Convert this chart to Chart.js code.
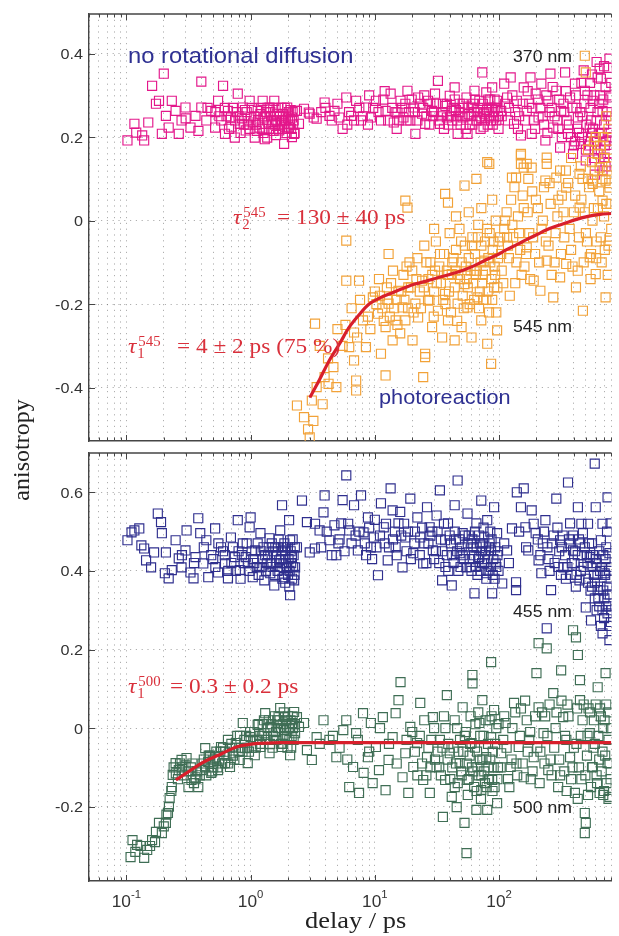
<!DOCTYPE html>
<html><head><meta charset="utf-8">
<script src="https://cdn.jsdelivr.net/npm/chart.js@4.4.1/dist/chart.umd.min.js"></script>
<style>
html,body{margin:0;padding:0;background:#fff;}
#wrap{position:relative;width:619px;height:936px;overflow:hidden;background:#fff;}
canvas{position:absolute;left:0;top:0;}
</style></head><body>
<div id="wrap"><canvas id="cTop" width="619" height="936"></canvas><canvas id="cBot" width="619" height="936"></canvas></div>
<script>
// ---------------- axis ranges & ticks ----------------
const X_MIN = 0.05, X_MAX = 803;
const X_GRID = [0.05,0.06,0.07,0.08,0.09,0.1,0.2,0.3,0.4,0.5,0.6,0.7,0.8,0.9,1,2,3,4,5,6,7,8,9,10,20,30,40,50,60,70,80,90,100,200,300,400,500,600,700,800];
const X_MAJOR = [0.1, 1, 10, 100];
const X_LABEL_EXP = ['-1', '0', '1', '2'];
const TOP_Y_MIN = -0.528, TOP_Y_MAX = 0.495;
const TOP_Y_TICKS = [-0.4, -0.2, 0, 0.2, 0.4];
const TOP_Y_LABELS = ['-0.4', '-0.2', '0', '0.2', '0.4'];
const BOT_Y_MIN = -0.389, BOT_Y_MAX = 0.70;
const BOT_Y_TICKS = [-0.2, 0, 0.2, 0.4, 0.6];
const BOT_Y_LABELS = ['-0.2', '0', '0.2', '0.4', '0.6'];

// ---------------- data: [delay (ps), anisotropy] ----------------
const s370 = [
[0.102,0.192],[0.116,0.232],[0.120,0.211],[0.134,0.204],[0.139,0.192],[0.150,0.235],[0.161,0.323],[0.173,0.280],[0.183,0.287],[0.193,0.208],[0.200,0.352],[0.208,0.251],[0.219,0.223],[0.232,0.287],[0.249,0.263],[0.264,0.208],[0.278,0.240],[0.299,0.271],[0.328,0.223],[0.360,0.251],[0.401,0.333],[0.401,0.271],[0.440,0.240],[0.482,0.263],[0.518,0.223],[0.547,0.287],[0.600,0.323],[0.622,0.208],[0.657,0.263],[0.694,0.247],[0.746,0.199],[0.788,0.304],[0.818,0.232],[0.865,0.271],[0.913,0.216],[0.982,0.287],[1.00,0.247],[1.08,0.199],[1.14,0.263],[1.18,0.223],[1.25,0.287],[1.29,0.247],[1.36,0.199],[1.42,0.271],[1.50,0.232],[1.55,0.287],[1.64,0.256],[1.70,0.216],[1.79,0.240],[1.86,0.184],[1.97,0.271],[2.04,0.223],[2.15,0.247],[2.24,0.208],[2.28,0.263],[2.45,0.232],[2.69,0.268],[2.94,0.259],[3.22,0.247],
[1.05,0.235],[1.12,0.215],[1.20,0.255],[1.27,0.210],[1.33,0.260],[1.39,0.235],[1.46,0.250],[1.53,0.215],[1.60,0.240],[1.67,0.270],[1.74,0.230],[1.82,0.255],[1.90,0.225],[2.00,0.245],[2.10,0.265],[2.20,0.230],[0.56,0.250],[0.70,0.225],[0.85,0.245],[0.95,0.230],[0.45,0.270],[0.30,0.245],[0.38,0.215],[0.62,0.270],[0.77,0.260],[0.90,0.265],[1.60,0.205],[1.95,0.210],[2.15,0.200],[1.30,0.195],
[0.52,0.26],[0.58,0.24],[0.64,0.25],[0.67,0.22],[0.72,0.27],[0.75,0.24],[0.80,0.25],[0.83,0.21],[0.88,0.23],[0.93,0.26],[0.98,0.22],[1.02,0.27],[1.07,0.25],[1.10,0.23],[1.15,0.24],[1.22,0.27],[1.24,0.22],[1.31,0.25],[1.37,0.27],[1.41,0.22],[1.44,0.26],[1.48,0.24],[1.52,0.27],[1.57,0.23],[1.62,0.25],[1.66,0.22],[1.71,0.25],[1.77,0.27],[1.80,0.22],[1.85,0.24],[1.88,0.27],[1.93,0.24],[1.99,0.22],[2.03,0.26],[2.07,0.24],[2.12,0.22],[2.18,0.26],[2.22,0.24],[2.26,0.21],
[2.36,0.263],[2.99,0.256],[3.40,0.244],[3.94,0.283],[4.31,0.251],[4.73,0.263],[5.18,0.247],[5.89,0.295],[6.45,0.251],[7.07,0.287],[7.74,0.240],[8.48,0.271],[9.29,0.247],[10.2,0.287],[11.2,0.240],[12.2,0.263],[13.4,0.304],[14.2,0.235],[15.2,0.259],[16.1,0.287],[17.0,0.247],[18.3,0.311],[19.3,0.240],[20.4,0.271],[21.2,0.208],[22.3,0.295],[24.0,0.256],[25.4,0.232],[26.8,0.287],[28.9,0.263],[30.5,0.304],[32.2,0.335],[33.4,0.232],[35.3,0.280],[38.0,0.247],[40.1,0.299],[41.6,0.263],[43.9,0.319],[46.4,0.208],[48.2,0.280],[50.9,0.247],[54.7,0.295],[55.7,0.208],[60.0,0.271],[63.4,0.311],[65.7,0.240],[69.4,0.287],[73.3,0.355],[76.0,0.256],[78.9,0.307],[83.4,0.271],[88.0,0.319],[91.2,0.247],[96.4,0.287],[104,0.263],[110,0.328],[116,0.295],[124,0.343],[132,0.232],[139,0.287],[150,0.204],[158,0.319],[167,0.263],[179,0.343],[183,0.208],[197,0.304],[208,0.247],[219,0.328],[236,0.192],[249,0.287],[259,0.352],[273,0.223],[289,0.311],[310,0.175],[316,0.263],[340,0.355],[359,0.208],[373,0.295],[394,0.160],[408,0.328],[431,0.247],[456,0.184],[490,0.311],[499,0.144],[537,0.223],[567,0.287],[589,0.168],[622,0.343],[645,0.208],[681,0.263],[707,0.151],[747,0.366],[774,0.192],[789,0.295],[774,0.388],[645,0.364],
[30,0.26],[34,0.25],[37,0.275],[42,0.24],[45,0.265],[47,0.25],[52,0.27],[57,0.255],[62,0.28],[67,0.26],[72,0.245],[80,0.265],[86,0.24],[93,0.27],[98,0.25],[36,0.22],[58,0.23],[75,0.225],[85,0.29],[44,0.29],[120,0.27],[145,0.25],[175,0.28],[190,0.24],[215,0.27],[230,0.23],[255,0.26],[280,0.25],[300,0.22],[330,0.28],[350,0.24],[380,0.20],[420,0.27],[440,0.21],[470,0.25],[520,0.19],[550,0.24],[600,0.20],[620,0.26],[660,0.17],[700,0.23],[730,0.19],[760,0.25],[790,0.20],[500,0.17],[580,0.15],[680,0.12],[760,0.14],[590,0.11],[560,0.21],[410,0.19],[650,0.30],[720,0.32],[540,0.33],[480,0.36],[12,0.31],[15,0.22],[6,0.23],[9,0.30],[4,0.27],[5.5,0.22],[18,0.24],[25,0.30],
[31,0.28],[33,0.24],[35,0.26],[38,0.28],[39,0.23],[41,0.25],[43,0.27],[46,0.24],[48,0.26],[49,0.23],[51,0.28],[53,0.25],[54,0.22],[56,0.27],[59,0.25],[61,0.23],[63,0.26],[64,0.29],[66,0.24],[68,0.27],[70,0.25],[71,0.22],[74,0.28],[77,0.24],[79,0.26],[81,0.23],[82,0.29],[84,0.25],[87,0.27],[89,0.23],[90,0.26],[92,0.29],[95,0.24],[97,0.27],[99,0.22],
[105,0.25],[112,0.28],[118,0.24],[128,0.30],[135,0.26],[142,0.22],[155,0.28],[162,0.24],[170,0.31],[185,0.27],[195,0.22],[205,0.29],[225,0.25],[240,0.30],[245,0.21],[265,0.27],[270,0.32],[295,0.24],[305,0.29],[320,0.20],[335,0.26],[345,0.31],[365,0.23],[390,0.27],[400,0.18],[415,0.30],[425,0.22],[450,0.26],[465,0.20],[485,0.28],[505,0.23],[515,0.30],[530,0.18],[545,0.27],[570,0.22],[585,0.30],[595,0.19],[610,0.24],[630,0.16],[640,0.28],[670,0.21],[690,0.29],[710,0.18],[740,0.26],[750,0.21],[770,0.30],[780,0.16],[795,0.24],[800,0.33],[720,0.13],[660,0.34],[560,0.35],[460,0.33],[700,0.37],[610,0.38],
[3.7,0.26],[4.5,0.24],[5,0.28],[6.2,0.26],[6.8,0.24],[7.5,0.27],[8,0.25],[8.8,0.23],[9.7,0.27],[10.7,0.26],[11.7,0.29],[12.8,0.24],[13.8,0.27],[14.7,0.26],[15.7,0.24],[16.6,0.27],[17.6,0.28],[18.8,0.26],[19.8,0.29],[21,0.26],[22,0.24],[23,0.28],[24.5,0.27],[26,0.25],[27.5,0.23],[28,0.28],[29.5,0.25]
];
const s545 = [
[2.36,-0.443],[2.69,-0.471],[2.99,-0.519],[3.11,-0.431],[3.40,-0.399],[3.94,-0.375],[4.24,-0.391],[4.90,-0.399],[4.64,-0.351],[7.07,-0.383],[7.07,-0.407],[6.8,-0.335],[6.22,-0.303],[6.8,-0.268],[8.48,-0.303],[8.03,-0.239],[9.64,-0.184],[10.6,-0.223],[11.2,-0.319],[12.2,-0.255],[12.9,-0.199],[13.9,-0.287],[14.7,-0.239],[15.5,-0.168],[16.7,-0.208],[17.6,-0.239],[18.6,-0.160],[20.1,-0.287],[21.2,-0.199],[22.3,-0.232],[24.0,-0.144],[25.4,-0.319],[25.4,-0.327],[26.8,-0.192],[28.9,-0.255],[30.5,-0.120],[32.2,-0.216],[34.8,-0.280],[36.8,-0.176],[38.8,-0.239],[41.6,-0.128],[43.9,-0.287],[46.4,-0.199],[49.9,-0.255],[52.7,-0.152],[55.7,-0.208],[60.0,-0.280],[63.4,-0.120],[67.0,-0.184],[71.9,-0.239],[76.0,-0.096],[80.3,-0.295],[86.3,-0.343],[91.2,-0.160],[96.4,-0.263],[104,-0.080],[116,-0.040],[167,-0.064],[190,-0.144],[215,-0.168],[242,-0.096],[273,-0.184],[310,-0.136],[347,-0.104],[416,-0.160],[473,-0.216],[537,-0.088],[600,-0.128],[720,-0.184],[774,-0.048],[12.2,-0.371],[24.5,-0.375],[5.89,-0.048],[5.89,-0.144],[7.46,-0.144],[12.9,-0.080],[3.3,-0.247],
[5.5,-0.30],[5.8,-0.25],[6.5,-0.21],[7.2,-0.28],[7.6,-0.19],[8.8,-0.23],[9.2,-0.26],[10,-0.17],[10.8,-0.14],[11.5,-0.21],[12.5,-0.16],[13.2,-0.23],[14,-0.12],[15,-0.19],[16,-0.27],[17,-0.13],[18.5,-0.21],[19,-0.10],[5,-0.26],[4.2,-0.33],[3.6,-0.30],[3.8,-0.44],[3.2,-0.48],[2.9,-0.50],
[17.6,0.048],[18.3,0.031],[36.8,0.064],[38.8,0.043],[52.7,0.084],[65.7,0.100],[83.4,0.136],[80.3,0.140],[127,0.103],[150,0.156],[158,0.127],[183,0.127],[242,0.136],[289,0.103],[347,0.079],[445,0.031],[490,0.395],[499,0.355],[567,0.096],[681,0.048],[774,0.079],
[150,0.16],[150,0.136],[167,0.136],[242,0.151],[137,0.103],[236,0.096],[310,0.12],[444,0.112],[567,0.088],[645,0.127],[720,0.096],
[20,-0.12],[22,-0.09],[23,-0.17],[25,-0.06],[27,-0.14],[28,-0.10],[30,-0.17],[31,-0.05],[33,-0.11],[34,-0.15],[36,-0.08],[37,-0.20],[39,-0.13],[40,-0.03],[42,-0.10],[44,-0.16],[45,-0.07],[47,-0.13],[48,-0.02],[50,-0.10],[51,-0.18],[53,-0.06],[55,-0.14],[57,-0.09],[58,-0.20],[61,-0.04],[62,-0.15],[64,-0.08],[66,-0.12],[68,-0.01],[70,-0.17],[72,-0.06],[74,-0.13],[77,-0.05],[79,-0.19],[82,-0.09],[84,-0.03],[87,-0.14],[89,-0.07],[92,-0.11],[94,0.00],[97,-0.16],[99,-0.05],
[10.3,-0.20],[11,-0.18],[11.8,-0.24],[12.6,-0.19],[13.5,-0.15],[14.3,-0.21],[15.2,-0.25],[16.3,-0.17],[17.3,-0.19],[18,-0.11],[19.5,-0.16],[20.5,-0.22],[21.6,-0.14],[23.5,-0.21],[24.8,-0.16],[26,-0.10],[27.5,-0.19],[29,-0.13],[29.8,-0.23],[31.5,-0.15],[33.5,-0.08],[35.5,-0.19],[38,-0.12],[39.5,-0.17],[41,-0.22],[43,-0.09],[44.5,-0.12],[46,-0.24],[48.5,-0.14],[49.5,-0.05],[52,-0.21],[54,-0.11],[56,-0.16],[59,-0.12],[60.5,-0.06],[63,-0.19],[65,-0.13],[67.5,-0.04],[69,-0.21],[71,-0.10],[73,-0.15],[75,-0.19],[78,-0.12],[80,-0.02],[81,-0.17],[83,-0.22],[85,-0.10],[88,-0.19],[90,-0.05],[93,-0.13],[95,-0.22],[98,-0.09],[57,0.02],[72,0.03],[88,0.05],[45,0.01],[30,-0.02],
[105,-0.12],[110,-0.02],[115,0.02],[120,-0.09],[125,0.05],[130,-0.04],[135,-0.15],[142,0.01],[148,-0.07],[155,0.06],[160,-0.11],[170,0.02],[175,-0.03],[185,0.07],[195,-0.08],[205,0.03],[220,-0.02],[230,0.08],[250,-0.06],[260,0.04],[280,-0.10],[295,0.01],[320,0.06],[335,-0.04],[360,0.09],[380,-0.07],[400,0.02],[430,-0.12],[460,0.05],[500,-0.03],[520,0.10],[550,-0.08],[580,0.03],[610,-0.05],[640,0.07],[670,-0.10],[700,0.01],[740,0.12],[760,-0.06],[790,0.04],[600,0.20],[650,0.18],[700,0.15],[780,0.17],[520,0.17],[560,0.14],
[102,-0.04],[108,-0.15],[112,0.00],[118,-0.06],[122,-0.18],[128,-0.01],[133,0.08],[138,-0.10],[145,-0.03],[152,-0.13],[158,0.03],[165,-0.08],[172,0.10],[178,-0.14],[188,-0.04],[198,0.05],[210,-0.10],[225,0.00],[238,-0.05],[255,0.09],[265,-0.13],[285,-0.03],[300,0.05],[315,-0.08],[330,0.02],[345,0.12],[370,-0.02],[390,-0.11],[410,0.06],[440,-0.04],[455,0.13],[480,-0.10],[490,0.02],[510,-0.05],[530,0.08],[545,-0.14],[565,0.00],[590,0.12],[605,-0.09],[625,0.03],[660,-0.04],[680,0.10],[710,-0.07],[730,0.04],[750,-0.13],[770,0.09],[800,-0.02],[800,0.13],[620,0.16],[470,0.10],[380,0.15],[690,0.20],[760,0.22],[580,0.19],[730,0.25]
];
const fit545 = [[3.0,-0.424],[3.6,-0.38],[4.3,-0.335],[5.2,-0.295],[6.2,-0.256],[7.5,-0.225],[9.0,-0.200],[11,-0.185],[14,-0.172],[17,-0.162],[21,-0.152],[26,-0.145],[32,-0.137],[40,-0.129],[50,-0.120],[62,-0.109],[76,-0.096],[95,-0.083],[116,-0.069],[140,-0.057],[168,-0.045],[200,-0.034],[242,-0.022],[290,-0.013],[347,-0.005],[420,0.003],[520,0.010],[650,0.015],[800,0.017]];

const s455 = [
[0.102,0.478],[0.110,0.498],[0.116,0.503],[0.127,0.508],[0.132,0.465],[0.139,0.457],[0.144,0.427],[0.158,0.409],[0.167,0.447],[0.179,0.546],[0.190,0.524],[0.193,0.496],[0.204,0.394],[0.208,0.447],[0.219,0.381],[0.232,0.402],[0.249,0.478],[0.264,0.432],[0.278,0.409],[0.299,0.452],[0.305,0.503],[0.328,0.396],[0.347,0.381],[0.360,0.435],[0.379,0.534],[0.393,0.496],[0.416,0.419],[0.440,0.478],[0.456,0.384],[0.482,0.440],[0.518,0.508],[0.547,0.396],[0.578,0.460],[0.622,0.419],[0.657,0.381],[0.694,0.485],[0.746,0.435],[0.788,0.529],[0.818,0.402],[0.865,0.470],[0.913,0.435],[0.982,0.511],[1.00,0.536],[1.04,0.384],[1.09,0.452],[1.18,0.409],[1.20,0.496],[1.29,0.376],[1.31,0.440],[1.42,0.483],[1.44,0.394],[1.55,0.363],[1.58,0.460],[1.70,0.427],[1.73,0.503],[1.79,0.567],[1.86,0.384],[1.89,0.452],[1.97,0.407],[2.04,0.529],[2.08,0.478],[2.08,0.338],[2.15,0.435],[2.24,0.376],[2.28,0.409],[2.36,0.460],[2.59,0.579],[2.84,0.524],[2.99,0.447],[3.29,0.457],
[1.05,0.43],[1.12,0.41],[1.22,0.45],[1.35,0.42],[1.40,0.46],[1.50,0.41],[1.60,0.44],[1.65,0.40],[1.75,0.43],[1.82,0.46],[1.92,0.42],[2.00,0.39],[2.10,0.45],[2.20,0.41],[1.90,0.37],[1.68,0.48],[1.48,0.47],[1.25,0.43],[0.95,0.42],[0.85,0.44],[0.70,0.42],[0.60,0.45],[0.50,0.43],[0.42,0.46],[0.35,0.42],[0.28,0.44],[2.18,0.48],[2.05,0.36],
[0.52,0.41],[0.55,0.47],[0.62,0.44],[0.66,0.40],[0.72,0.46],[0.76,0.40],[0.80,0.45],[0.83,0.38],[0.88,0.42],[0.93,0.47],[0.98,0.40],[1.02,0.45],[1.07,0.42],[1.14,0.47],[1.16,0.39],[1.23,0.41],[1.27,0.46],[1.33,0.40],[1.38,0.44],[1.45,0.42],[1.52,0.45],[1.56,0.39],[1.62,0.42],[1.66,0.46],[1.72,0.41],[1.77,0.45],[1.80,0.38],[1.84,0.42],[1.87,0.47],[1.91,0.44],[1.95,0.41],[1.99,0.46],[2.02,0.43],[2.06,0.40],[2.12,0.42],[2.16,0.38],[2.22,0.44],[2.26,0.39],[2.27,0.46],
[3.59,0.503],[3.86,0.549],[3.94,0.592],[4.31,0.478],[4.73,0.516],[5.09,0.470],[5.36,0.521],[5.89,0.643],[6.22,0.503],[6.8,0.567],[7.3,0.452],[7.74,0.592],[8.12,0.498],[8.8,0.536],[9.29,0.460],[9.8,0.485],[10.6,0.389],[11.2,0.572],[11.8,0.511],[12.7,0.427],[13.4,0.610],[13.9,0.554],[14.7,0.460],[15.5,0.521],[16.7,0.409],[17.6,0.485],[19.3,0.584],[20.4,0.445],[22.0,0.536],[23.2,0.485],[24.5,0.419],[26.3,0.562],[27.6,0.511],[29.3,0.452],[31.4,0.541],[33.4,0.605],[34.8,0.376],[36.8,0.478],[38.8,0.521],[41.6,0.363],[43.9,0.567],[46.4,0.630],[48.2,0.445],[50.9,0.496],[54.7,0.409],[55.7,0.546],[60.0,0.470],[63.4,0.343],[65.7,0.521],[69.4,0.435],[71.9,0.579],[76.0,0.485],[78.9,0.394],[80.3,0.529],[86.3,0.452],[88.0,0.343],[91.2,0.562],[94,0.419],[96.4,0.496],[106,0.368],[116,0.452],[127,0.508],[137,0.351],[137,0.371],[139,0.600],[150,0.562],[158,0.610],[163,0.511],[172,0.452],[183,0.554],[197,0.496],[208,0.427],[219,0.394],[236,0.529],[242,0.254],[262,0.351],[289,0.584],[310,0.478],[330,0.409],[359,0.625],[373,0.521],[394,0.452],[431,0.562],[444,0.376],[473,0.496],[499,0.307],[537,0.435],[550,0.274],[589,0.673],[600,0.562],[622,0.351],[660,0.478],[681,0.241],[707,0.394],[747,0.587],[747,0.292],[774,0.224],[774,0.445],[789,0.521],
[21,0.50],[25,0.47],[28,0.49],[30,0.43],[32,0.50],[35,0.45],[37,0.41],[40,0.49],[42,0.44],[45,0.48],[47,0.40],[50,0.46],[52,0.43],[57,0.49],[59,0.41],[62,0.46],[64,0.50],[67,0.39],[70,0.47],[73,0.42],[75,0.51],[77,0.44],[82,0.40],[84,0.47],[85,0.50],[90,0.43],[92,0.38],[98,0.45],[110,0.47],[120,0.42],[145,0.50],[165,0.46],[190,0.52],[225,0.47],[250,0.43],[275,0.49],[300,0.41],[320,0.46],[345,0.38],[365,0.48],[385,0.42],[410,0.45],[420,0.39],[450,0.47],[480,0.41],[510,0.44],[520,0.37],[560,0.47],[580,0.39],[610,0.42],[630,0.33],[650,0.40],[690,0.35],[720,0.43],[740,0.36],[760,0.31],[790,0.38],[700,0.28],[610,0.30],[560,0.36],[660,0.26],[795,0.27],[4.9,0.44],[6.5,0.47],[8.5,0.44],[10,0.53],[12,0.47],[14.5,0.50],[16,0.55],[18,0.45],[5.5,0.58],[3.3,0.52],
[20.8,0.47],[23,0.44],[24,0.51],[26,0.42],[27,0.47],[29,0.50],[31,0.45],[33,0.42],[34,0.48],[36,0.52],[38,0.44],[39,0.40],[41,0.47],[43,0.42],[44,0.50],[46,0.45],[48,0.48],[49,0.41],[51,0.44],[53,0.49],[55,0.41],[56,0.47],[58,0.43],[60,0.40],[61,0.48],[63,0.44],[65,0.41],[66,0.46],[68,0.43],[69,0.49],[71,0.40],[72,0.45],[74,0.47],[76,0.42],[78,0.45],[79,0.38],[81,0.43],[83,0.46],[86,0.41],[87,0.48],[89,0.39],[93,0.46],[95,0.41],[97,0.44],[99,0.40],
[3.7,0.46],[4.1,0.50],[4.5,0.44],[5.2,0.48],[5.7,0.45],[6.1,0.52],[7,0.49],[7.5,0.50],[8.3,0.47],[9.0,0.51],[9.5,0.43],[10.3,0.46],[11,0.49],[12.3,0.52],[13,0.46],[14,0.48],[15,0.44],[16.3,0.49],[17.2,0.52],[18.5,0.50],[19.5,0.43],
[205,0.48],[215,0.44],[230,0.50],[245,0.46],[255,0.40],[268,0.47],[280,0.42],[295,0.51],[305,0.45],[315,0.39],[325,0.49],[340,0.44],[355,0.41],[370,0.47],[380,0.39],[395,0.49],[405,0.42],[415,0.36],[430,0.44],[440,0.48],[455,0.40],[465,0.44],[490,0.46],[500,0.38],[515,0.42],[530,0.47],[545,0.35],[555,0.41],[570,0.44],[590,0.37],[600,0.43],[620,0.39],[640,0.45],[655,0.36],[670,0.41],[690,0.44],[705,0.33],[715,0.39],[730,0.46],[750,0.34],[765,0.40],[780,0.34],[800,0.41],[800,0.30],[770,0.26],[730,0.31],[680,0.30],[640,0.31],[590,0.33],[740,0.50],[680,0.52],[520,0.52],[460,0.52]
];
const s500 = [
[0.108,-0.328],[0.112,-0.285],[0.122,-0.297],[0.139,-0.330],[0.147,-0.310],[0.161,-0.285],[0.173,-0.264],[0.183,-0.241],[0.193,-0.267],[0.208,-0.241],[0.216,-0.216],[0.223,-0.178],[0.232,-0.150],[0.236,-0.119],[0.249,-0.089],[0.264,-0.107],[0.278,-0.081],[0.305,-0.076],[0.316,-0.150],[0.334,-0.132],[0.360,-0.125],[0.379,-0.150],[0.401,-0.107],[0.431,-0.051],[0.456,-0.086],[0.482,-0.114],[0.518,-0.074],[0.547,-0.107],[0.578,-0.048],[0.622,-0.089],[0.657,-0.030],[0.682,-0.099],[0.719,-0.064],[0.760,-0.038],[0.818,-0.081],[0.865,0.013],[0.898,-0.051],[0.948,-0.089],[1.00,-0.023],[1.08,-0.069],[1.14,0.008],[1.20,-0.048],[1.29,-0.013],[1.31,0.038],[1.42,-0.064],[1.44,0.003],[1.55,-0.030],[1.64,0.020],[1.73,0.051],[1.79,-0.048],[1.86,-0.005],[1.89,0.028],[1.97,-0.023],[2.08,-0.069],[2.15,0.013],[2.24,0.041],[2.28,-0.013],[2.45,0.003],[2.84,-0.056],[3.11,-0.081],
[0.29,-0.12],[0.30,-0.095],[0.33,-0.10],[0.35,-0.14],[0.37,-0.11],[0.42,-0.08],[0.44,-0.12],[0.47,-0.07],[0.50,-0.10],[0.53,-0.06],[0.56,-0.08],[0.60,-0.05],[0.64,-0.07],[0.70,-0.04],[0.74,-0.08],[0.78,-0.02],[0.84,-0.05],[0.92,-0.02],[0.97,-0.06],[1.05,-0.03],[1.10,-0.05],[1.17,-0.02],[1.25,0.01],[1.35,-0.03],[1.40,0.02],[1.50,-0.05],[1.60,-0.01],[1.68,0.03],[1.76,0.00],[1.83,-0.04],[1.93,0.01],[2.00,0.03],[2.05,-0.03],[2.12,-0.05],[2.20,0.00],[0.26,-0.13],[0.24,-0.10],[0.25,-0.115],[0.23,-0.16],[0.22,-0.20],[0.21,-0.22],[0.20,-0.25],[0.17,-0.29],[0.155,-0.30],[0.13,-0.30],[0.118,-0.315],
[0.27,-0.09],[0.28,-0.10],[0.32,-0.11],[0.34,-0.09],[0.36,-0.13],[0.39,-0.12],[0.41,-0.09],[0.43,-0.10],[0.46,-0.07],[0.49,-0.11],[0.51,-0.08],[0.54,-0.10],[0.57,-0.06],[0.59,-0.09],[0.62,-0.06],[0.66,-0.09],[0.68,-0.05],[0.72,-0.07],[0.76,-0.05],[0.80,-0.06],[0.82,-0.02],[0.86,-0.06],[0.89,-0.03],[0.94,-0.05],[0.99,-0.01],[1.03,-0.05],[1.07,-0.01],[1.12,-0.03],[1.16,0.01],[1.19,-0.04],[1.23,-0.02],[1.28,0.02],[1.32,-0.03],[1.37,0.00],[1.43,-0.04],[1.47,0.01],[1.52,-0.02],[1.57,0.03],[1.62,-0.03],[1.66,0.00],[1.71,0.02],[1.75,-0.04],[1.81,0.01],[1.85,0.04],[1.88,-0.02],[1.95,0.02],[1.98,-0.05],[2.03,0.00],[2.10,0.02],[2.14,-0.02],[2.18,0.03],[2.22,-0.03],[2.26,0.01],
[2.36,0.028],[2.69,0.013],[3.40,-0.023],[3.86,0.020],[4.31,-0.030],[4.90,-0.074],[5.57,-0.005],[5.89,0.020],[6.22,-0.150],[6.68,-0.099],[7.07,-0.013],[7.46,-0.165],[8.03,0.038],[8.12,-0.114],[8.8,-0.074],[9.29,0.013],[9.6,-0.140],[10.2,-0.048],[10.8,-0.107],[11.6,0.028],[12.2,-0.158],[12.9,-0.081],[13.9,-0.023],[14.7,0.038],[15.5,0.071],[16.1,0.117],[16.7,-0.125],[17.6,-0.064],[18.6,-0.165],[19.3,0.003],[20.4,-0.099],[21.9,-0.038],[23.2,0.064],[24.5,-0.132],[26.3,-0.074],[27.7,-0.165],[29.3,0.028],[31.4,-0.099],[33.4,-0.030],[35.3,-0.226],[36.8,-0.132],[38.0,0.084],[40.1,-0.064],[41.6,-0.175],[43.9,0.020],[45.6,-0.201],[48.2,-0.089],[50.9,0.053],[52.7,-0.241],[54.7,-0.318],[55.7,-0.132],[60.0,-0.038],[61.1,0.114],[65.7,-0.208],[67.0,-0.099],[69.4,0.013],[71.9,-0.158],[73.3,0.071],[78.9,-0.074],[80.3,-0.208],[86.3,-0.023],[88.0,-0.132],[91.2,0.046],[96.4,-0.191],[104,-0.064],[113,0.013],[124,-0.099],[132,0.064],[144,-0.048],[158,-0.125],[167,0.020],[190,-0.074],[208,0.053],[228,-0.013],[249,-0.107],[273,0.089],[299,-0.150],[328,0.028],[373,-0.074],[408,-0.165],[448,0.071],[490,-0.216],[499,-0.241],[490,-0.267],[537,-0.013],[567,-0.099],[622,0.104],[645,-0.165],[707,0.020],[747,-0.089],[774,-0.175],
[394,0.249],[208,0.216],[242,0.203],[416,0.231],[86.3,0.168],[431,0.186],[61,0.135],[200,0.140],[316,0.147],[720,0.140],[448,0.122],
[20,-0.01],[22,-0.12],[25,0.02],[27,-0.05],[28,-0.10],[30,0.00],[32,-0.06],[34,-0.12],[36,0.03],[39,-0.04],[42,-0.10],[44,-0.15],[46,0.00],[47,-0.06],[50,-0.12],[53,-0.02],[56,-0.17],[58,-0.07],[59,0.03],[62,-0.11],[64,-0.05],[66,-0.16],[68,0.04],[70,-0.08],[72,-0.12],[75,-0.02],[77,-0.14],[82,-0.10],[84,0.02],[89,-0.06],[92,-0.15],[95,0.00],[98,-0.10],[108,-0.03],[118,-0.13],[128,0.00],[138,-0.09],[150,0.05],[175,-0.03],[180,-0.13],[215,-0.06],[235,0.03],[260,-0.08],[285,0.00],[310,-0.12],[340,-0.02],[355,0.06],[390,-0.10],[420,-0.04],[460,-0.13],[470,0.02],[510,-0.07],[525,0.05],[550,-0.15],[590,-0.04],[610,-0.12],[660,0.03],[680,-0.06],[730,0.06],[760,-0.03],[790,-0.13],[580,0.02],[700,-0.16],[640,-0.08],
[3.6,-0.04],[4.6,-0.02],[5.2,-0.05],[6,-0.08],[7.3,-0.03],[9,-0.06],[11,0.00],[13,-0.04],[15,-0.09],[18,-0.03],
[21,-0.06],[23,-0.02],[24,-0.09],[26,-0.12],[28.5,-0.03],[30.5,-0.08],[33,-0.10],[35,-0.05],[37,0.00],[38.5,-0.08],[40.5,-0.13],[43,-0.05],[45,-0.09],[46.5,-0.14],[48.5,-0.03],[49.5,-0.11],[51.5,-0.06],[54,-0.01],[55,-0.09],[57,-0.13],[58.5,-0.04],[60.5,-0.10],[63,-0.15],[64.5,0.01],[66.5,-0.06],[68.5,-0.12],[70.5,-0.02],[71.5,-0.18],[73.5,-0.08],[76,-0.11],[78,0.02],[79.5,-0.15],[81.5,-0.04],[83,-0.13],[85,-0.08],[87,0.03],[88.5,-0.16],[90.5,-0.10],[93,-0.04],[97,-0.13],[99,0.01],
[103,-0.10],[110,0.03],[115,-0.05],[121,-0.15],[126,-0.08],[135,0.04],[140,-0.12],[147,-0.02],[155,-0.09],[162,0.07],[170,-0.06],[178,-0.01],[186,-0.11],[195,0.03],[203,-0.05],[212,-0.14],[222,0.04],[232,-0.09],[245,-0.02],[255,0.06],[265,-0.12],[278,-0.05],[290,0.04],[305,-0.08],[318,0.07],[335,-0.11],[348,-0.03],[362,0.03],[380,-0.13],[400,-0.05],[425,0.05],[440,-0.10],[455,-0.02],[480,0.06],[495,-0.12],[515,-0.02],[540,0.04],[560,-0.10],[575,-0.05],[600,0.06],[615,-0.14],[630,-0.02],[650,0.05],[670,-0.11],[690,0.00],[715,-0.07],[735,-0.14],[755,0.04],[775,-0.09],[795,0.00],[760,-0.18],[690,-0.17],[520,-0.17],[430,-0.18],[350,-0.16]
];
const fit500 = [[0.25,-0.132],[0.30,-0.116],[0.38,-0.094],[0.45,-0.081],[0.55,-0.069],[0.65,-0.058],[0.79,-0.047],[0.95,-0.042],[1.14,-0.039],[1.4,-0.038],[1.74,-0.037],[3,-0.037],[10,-0.037],[100,-0.037],[800,-0.037]];

// ---------------- styles ----------------
const COL_370 = '#e3178b', COL_545 = '#f2a238', COL_455 = '#2f2f8e', COL_500 = '#3f6e55';
const COL_FIT = '#d81f2b', COL_RED_TXT = '#d9303b', COL_BLUE_TXT = '#2e3092';
const AXIS = '#454545', GRIDC = 'rgba(110,110,110,0.55)';
const SANS = '"Liberation Sans", Arial, sans-serif', SERIF = '"Liberation Serif", "Times New Roman", serif';

const toXY = arr => arr.map(p => ({x: p[0], y: p[1]}));
function scatterDs(arr, col, order) {
  return {data: toXY(arr), showLine: false, pointStyle: 'rect', pointRadius: 6.4, pointBorderWidth: 1.15,
          pointBackgroundColor: 'rgba(0,0,0,0)', pointBorderColor: col, borderColor: col, backgroundColor: 'rgba(0,0,0,0)', order: order, clip: 0};
}
function fitDs(arr) {
  return {data: toXY(arr), showLine: true, pointRadius: 0, borderColor: COL_FIT, borderWidth: 3.2, tension: 0.35, order: 0, fill: false};
}

function sText(ctx, s, x, y, font, color, align, sx) {
  ctx.save(); ctx.font = font; ctx.fillStyle = color; ctx.textBaseline = 'alphabetic'; ctx.textAlign = 'left';
  const w = ctx.measureText(s).width * sx;
  let x0 = x; if (align === 'right') x0 = x - w; else if (align === 'center') x0 = x - w / 2;
  ctx.translate(x0, y); ctx.scale(sx, 1); ctx.fillText(s, 0, 0); ctx.restore();
  return w;
}
function tauLabel(ctx, x, base, sub, sup, rest, restX) {
  const w = sText(ctx, 'τ', x, base, 'italic 22px ' + SERIF, COL_RED_TXT, 'left', 1.06);
  sText(ctx, sup, x + w + 2, base - 7.5, '14px ' + SERIF, COL_RED_TXT, 'left', 1.06);
  sText(ctx, sub, x + w + 1, base + 4.5, '14px ' + SERIF, COL_RED_TXT, 'left', 1.06);
  sText(ctx, rest, restX, base, '22px ' + SERIF, COL_RED_TXT, 'left', 1.06);
}

function makeDecor(which, yTicks, yLabels) {
  return {
    id: 'decor_' + which,
    afterDraw(chart) {
      const ctx = chart.ctx, a = chart.chartArea, xs = chart.scales.x, ys = chart.scales.y;
      ctx.save();
      ctx.strokeStyle = AXIS; ctx.lineWidth = 1;
      X_GRID.forEach(v => {
        const px = Math.round(xs.getPixelForValue(v)) + 0.5;
        const L = X_MAJOR.includes(v) ? 6 : 3.5;
        ctx.beginPath(); ctx.moveTo(px, a.bottom); ctx.lineTo(px, a.bottom - L); ctx.stroke();
        ctx.beginPath(); ctx.moveTo(px, a.top); ctx.lineTo(px, a.top + L); ctx.stroke();
      });
      yTicks.forEach(v => {
        const py = Math.round(ys.getPixelForValue(v)) + 0.5;
        ctx.beginPath(); ctx.moveTo(a.left, py); ctx.lineTo(a.left + 6, py); ctx.stroke();
      });
      ctx.lineWidth = 1.4;
      ctx.beginPath(); ctx.moveTo(a.left, a.top); ctx.lineTo(a.right, a.top); ctx.stroke();
      ctx.restore();
      yTicks.forEach((v, i) => {
        const py = ys.getPixelForValue(v);
        sText(ctx, yLabels[i], 83, py + 5.5, '15px ' + SANS, '#333', 'right', 1.08);
      });
      if (which === 'top') {
        sText(ctx, 'no rotational diffusion', 128, 63, '22px ' + SANS, COL_BLUE_TXT, 'left', 1.08);
        sText(ctx, 'photoreaction', 379, 404, '20.5px ' + SANS, COL_BLUE_TXT, 'left', 1.06);
        sText(ctx, '370 nm', 513, 62, '17px ' + SANS, '#222', 'left', 1.04);
        sText(ctx, '545 nm', 513, 332, '17px ' + SANS, '#222', 'left', 1.04);
        tauLabel(ctx, 233, 224, '2', '545', '= 130 ± 40 ps', 277);
        tauLabel(ctx, 128, 353, '1', '545', '= 4 ± 2 ps (75 %)', 177);
      } else {
        sText(ctx, '455 nm', 513, 617, '17px ' + SANS, '#222', 'left', 1.04);
        sText(ctx, '500 nm', 513, 813, '17px ' + SANS, '#222', 'left', 1.04);
        tauLabel(ctx, 128, 693, '1', '500', '= 0.3 ± 0.2 ps', 170);
        X_MAJOR.forEach((v, i) => {
          const px = xs.getPixelForValue(v);
          ctx.save(); ctx.font = '16px ' + SANS; const w1 = ctx.measureText('10').width * 1.08;
          ctx.font = '10.5px ' + SANS; const w2 = ctx.measureText(X_LABEL_EXP[i]).width * 1.08; ctx.restore();
          const x0 = px - (w1 + w2) / 2;
          sText(ctx, '10', x0, 907, '16px ' + SANS, '#333', 'left', 1.08);
          sText(ctx, X_LABEL_EXP[i], x0 + w1, 897.5, '10.5px ' + SANS, '#333', 'left', 1.08);
        });
        sText(ctx, 'delay / ps', 305, 928, '24px ' + SERIF, '#222', 'left', 1.1);
        ctx.save(); ctx.translate(29, 450); ctx.rotate(-Math.PI / 2);
        ctx.font = '24px ' + SERIF; ctx.fillStyle = '#222'; ctx.textAlign = 'center'; ctx.textBaseline = 'alphabetic';
        ctx.fillText('anisotropy', 0, 0); ctx.restore();
      }
    }
  };
}

function scalesFor(yMin, yMax, yTicks, xHeight) {
  return {
    x: {type: 'logarithmic', min: X_MIN, max: X_MAX,
        afterBuildTicks: s => { s.ticks = X_GRID.map(v => ({value: v, major: X_MAJOR.includes(v)})); },
        ticks: {display: false},
        grid: {display: true, color: GRIDC, lineWidth: 1, drawTicks: false},
        border: {display: true, color: AXIS, width: 1.4, dash: [1.2, 4.6]},
        afterFit: s => { s.height = xHeight; }},
    y: {type: 'linear', min: yMin, max: yMax,
        afterBuildTicks: s => { s.ticks = yTicks.map(v => ({value: v})); },
        ticks: {display: false},
        grid: {display: true, color: GRIDC, lineWidth: 1, drawTicks: false},
        border: {display: true, color: AXIS, width: 1.4, dash: [1.2, 4.6]},
        afterFit: s => { s.width = 89; }}
  };
}

const common = {responsive: false, animation: false, devicePixelRatio: 1, events: [],
  plugins: {legend: {display: false}, tooltip: {enabled: false}}};

new Chart(document.getElementById('cTop'), {
  type: 'scatter',
  data: {datasets: [fitDs(fit545), scatterDs(s370, COL_370, 2), scatterDs(s545, COL_545, 1)]},
  options: Object.assign({}, common, {layout: {padding: {top: 14, left: 0, right: 0, bottom: 0}},
    scales: scalesFor(TOP_Y_MIN, TOP_Y_MAX, TOP_Y_TICKS, 936 - 441)}),
  plugins: [makeDecor('top', TOP_Y_TICKS, TOP_Y_LABELS)]
});
new Chart(document.getElementById('cBot'), {
  type: 'scatter',
  data: {datasets: [fitDs(fit500), scatterDs(s455, COL_455, 2), scatterDs(s500, COL_500, 1)]},
  options: Object.assign({}, common, {layout: {padding: {top: 453, left: 0, right: 0, bottom: 0}},
    scales: scalesFor(BOT_Y_MIN, BOT_Y_MAX, BOT_Y_TICKS, 936 - 881)}),
  plugins: [makeDecor('bot', BOT_Y_TICKS, BOT_Y_LABELS)]
});
</script></body></html>
